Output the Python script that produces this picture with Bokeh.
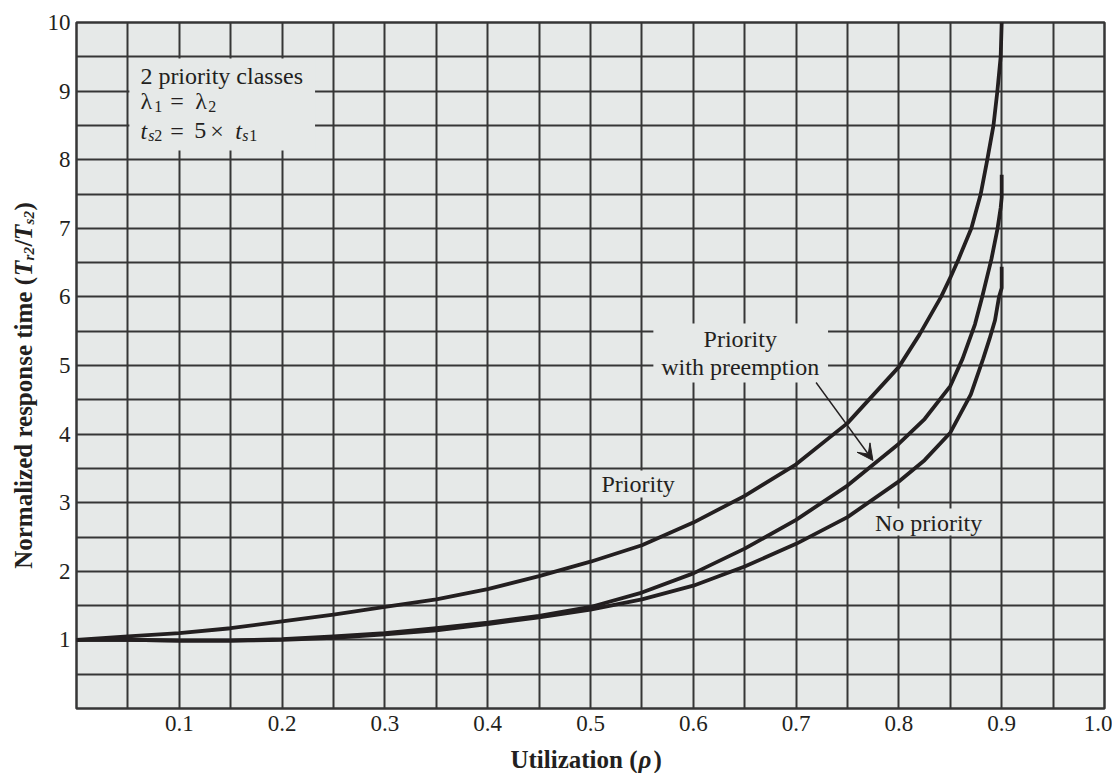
import numpy as np
from bokeh.plotting import figure
from bokeh.layouts import row, column
from bokeh.models import (Label, BoxAnnotation, Arrow, VeeHead, FixedTicker,
                          Range1d, CustomJSTickFormatter)
from bokeh.embed import file_html
from bokeh.resources import INLINE

# ---------------- data ----------------
priority_x = [0.0, 0.05, 0.1, 0.15, 0.2, 0.25, 0.3, 0.35, 0.4, 0.45, 0.5, 0.55,
              0.6, 0.65, 0.7, 0.75, 0.8, 0.82, 0.841, 0.85, 0.858, 0.8705,
              0.8796, 0.886, 0.892, 0.8958, 0.899, 0.9]
priority_y = [1.0, 1.05, 1.10, 1.17, 1.27, 1.37, 1.48, 1.59, 1.74, 1.93, 2.14, 2.38,
              2.71, 3.10, 3.56, 4.16, 4.98, 5.45, 6.0, 6.28, 6.55, 7.0,
              7.5, 8.0, 8.5, 9.0, 9.5, 10.0]

preempt_x = [0.0, 0.05, 0.1, 0.15, 0.2, 0.25, 0.3, 0.35, 0.4, 0.45, 0.5, 0.55,
             0.6, 0.65, 0.7, 0.75, 0.8, 0.825, 0.85, 0.862, 0.874, 0.881, 0.89,
             0.896, 0.899, 0.9, 0.9]
preempt_y = [1.0, 1.0, 0.99, 0.99, 1.01, 1.05, 1.10, 1.17, 1.25, 1.35, 1.48, 1.69,
             1.97, 2.33, 2.75, 3.25, 3.86, 4.22, 4.70, 5.10, 5.60, 6.0, 6.55,
             7.0, 7.3, 7.45, 7.78]

nopri_x = [0.0, 0.05, 0.1, 0.15, 0.2, 0.25, 0.3, 0.35, 0.4, 0.45, 0.5, 0.55,
           0.6, 0.65, 0.7, 0.75, 0.8, 0.825, 0.85, 0.87, 0.882, 0.888, 0.8935,
           0.8974, 0.9, 0.9]
nopri_y = [1.0, 1.0, 0.99, 0.99, 1.0, 1.03, 1.08, 1.14, 1.23, 1.33, 1.44, 1.59,
           1.79, 2.07, 2.40, 2.79, 3.31, 3.62, 4.02, 4.58, 5.10, 5.38, 5.66,
           6.0, 6.13, 6.44]

x_tick_values = [0.1, 0.2, 0.3, 0.4, 0.5, 0.6, 0.7, 0.8, 0.9, 1.0]
x_tick_labels = ["0.1", "0.2", "0.3", "0.4", "0.5", "0.6", "0.7", "0.8", "0.9", "1.0"]
y_tick_values = [1, 2, 3, 4, 5, 6, 7, 8, 9, 10]
y_tick_labels = ["1", "2", "3", "4", "5", "6", "7", "8", "9", "10"]
x_grid_values = [0.05, 0.1, 0.15, 0.2, 0.25, 0.3, 0.35, 0.4, 0.45, 0.5, 0.55, 0.6,
                 0.65, 0.7, 0.75, 0.8, 0.85, 0.9, 0.95]
y_grid_values = [0.5, 1, 1.5, 2, 2.5, 3, 3.5, 4, 4.5, 5, 5.5, 6, 6.5, 7, 7.5, 8,
                 8.5, 9, 9.5]

# ---------------- layout / style ----------------
INK = "#231f20"
GRID = "#363636"
BG = "#e6e9e8"
FONT = "Liberation Serif"

OFF = 0                     # bokeh's page template has no body margin
TFIX = 7                    # text baseline correction (px)
LEFT_W = 44                 # strip holding the y title
BOT_H = 29                  # strip holding the x title
W, H = 1068, 744            # main figure
ML, MR, MT, MB = 30, 8, 22, 36
FW = W - ML - MR
FH = H - MT - MB
PAGE_L = OFF + LEFT_W + ML  # frame left on page
PAGE_B = OFF + MT + FH      # frame bottom on page
XR = (0.0, 1.0)
YR = (0.0, 10.0)


def dx(px):
    return XR[0] + (px - PAGE_L) / FW * (XR[1] - XR[0])


def dy(py):
    return YR[0] + (PAGE_B - py) / FH * (YR[1] - YR[0])


p = figure(width=W, height=H, output_backend="svg", toolbar_location=None,
           x_range=Range1d(*XR), y_range=Range1d(*YR),
           min_border_left=ML, min_border_right=MR,
           min_border_top=MT, min_border_bottom=MB)
p.background_fill_color = BG
p.border_fill_color = "white"
p.outline_line_color = GRID
p.outline_line_width = 2.5

p.xgrid.ticker = FixedTicker(ticks=x_grid_values)
p.ygrid.ticker = FixedTicker(ticks=y_grid_values)
for g in (p.xgrid, p.ygrid):
    g.grid_line_color = GRID
    g.grid_line_width = 2
    g.grid_line_alpha = 1

p.xaxis.ticker = FixedTicker(ticks=x_tick_values)
p.yaxis.ticker = FixedTicker(ticks=y_tick_values)
FMT = "let b=0;for(let i=0;i<v.length;i++){if(Math.abs(v[i]-tick)<Math.abs(v[b]-tick)){b=i}}return l[b];"
p.xaxis.formatter = CustomJSTickFormatter(args=dict(v=x_tick_values, l=x_tick_labels), code=FMT)
p.yaxis.formatter = CustomJSTickFormatter(args=dict(v=y_tick_values, l=y_tick_labels), code=FMT)
for ax in (p.xaxis, p.yaxis):
    ax.axis_line_color = None
    ax.major_tick_line_color = None
    ax.minor_tick_line_color = None
    ax.major_tick_out = 0
    ax.major_tick_in = 0
    ax.major_label_text_font = FONT
    ax.major_label_text_font_size = "23px"
    ax.major_label_text_color = INK
p.xaxis.major_label_standoff = 7
p.yaxis.major_label_standoff = 6

# backgrounds that hide the grid behind annotation texts
for (l, r, b, t) in [(dx(127), dx(313), dy(150), dy(58)),
                     (dx(652), dx(827), dy(382), dy(323)),
                     (dx(596), dx(676), dy(497), dy(470)),
                     (dx(868), dx(988), dy(535), dy(508))]:
    p.add_layout(BoxAnnotation(left=l, right=r, bottom=b, top=t, fill_color=BG,
                               fill_alpha=1, line_color=None, level="underlay"))

# curves
for xs, ys in [(priority_x, priority_y), (preempt_x, preempt_y), (nopri_x, nopri_y)]:
    p.line(xs, ys, line_width=3.8, line_color=INK, line_join="round")


def lab(fig, x, y, s, size=24, style="normal", angle=0.0, align="left"):
    fig.add_layout(Label(x=x, y=y, text=s, text_font=FONT,
                         text_font_size=f"{size}px", text_font_style=style,
                         text_color=INK, angle=angle, text_align=align,
                         text_baseline="alphabetic", level="overlay"))


def txt(px, py, s, **kw):
    lab(p, dx(px), dy(py - TFIX), s, **kw)


# box 1 text
txt(138, 82, "2 priority classes")
txt(138, 107, "λ")
txt(152, 113, "1", size=16)
txt(168, 107, "=")
txt(193, 107, "λ")
txt(206, 113, "2", size=16)
txt(138, 137, "t", style="italic")
txt(146, 142, "s", size=16, style="italic")
txt(152, 142, "2", size=16)
txt(168, 137, "=")
txt(192, 137, "5")
txt(208, 137, "×")
txt(233, 137, "t", style="italic")
txt(240, 142, "s", size=16, style="italic")
txt(247, 142, "1", size=16)

# curve labels
txt(739, 345, "Priority", align="center")
txt(739, 373, "with preemption", align="center")
txt(600, 490, "Priority")
txt(874, 529, "No priority")

p.add_layout(Arrow(end=VeeHead(size=16, fill_color=INK, line_color=INK, line_width=1),
                   x_start=dx(815), y_start=dy(382), x_end=dx(872), y_end=dy(460),
                   line_color=INK, line_width=1.4))


def strip(w, h):
    f = figure(width=w, height=h, output_backend="svg", toolbar_location=None,
               x_range=Range1d(0, w), y_range=Range1d(h, 0),
               min_border=0, x_axis_location=None, y_axis_location=None)
    f.outline_line_color = None
    f.background_fill_color = "white"
    f.border_fill_color = "white"
    f.grid.visible = False
    return f


# y axis title (rotated), left strip: page coords -> strip coords
ly = strip(LEFT_W, H)
A = np.pi / 2


def ytx(px, py, s, **kw):
    lab(ly, px - OFF - TFIX, py - OFF, s, angle=A, **kw)


ytx(30, 276, "Normalized response time (", size=25, style="bold", align="right")
ytx(30, 275, "T", size=25, style="bold italic")
ytx(35, 258, "r2", size=15, style="bold italic")
ytx(30, 243, "/", size=25, style="bold")
ytx(30, 236, "T", size=25, style="bold italic")
ytx(35, 219, "s2", size=15, style="bold italic")
ytx(30, 204, ")", size=25, style="bold")

# x axis title, bottom strip
bt = strip(LEFT_W + W, BOT_H)
TOP_BT = OFF + H


def xtx(px, py, s, **kw):
    lab(bt, px - OFF, py - TOP_BT - TFIX, s, **kw)


xtx(637, 766, "Utilization (", size=25, style="bold", align="right")
xtx(638, 766, "ρ", size=25, style="bold italic")
xtx(653, 766, ")", size=25, style="bold")

layout = column(row(ly, p), bt)
open("out.html", "w").write(file_html(layout, INLINE))
